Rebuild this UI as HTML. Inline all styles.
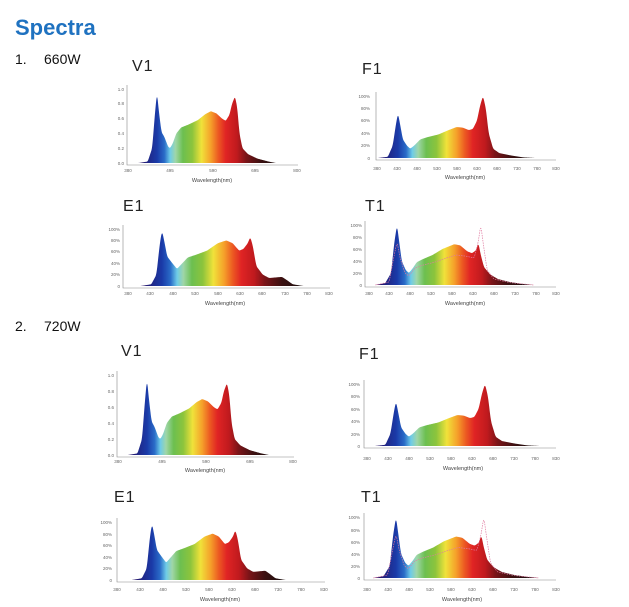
<!DOCTYPE html>
<html><head><meta charset="utf-8"><style>
html,body{margin:0;padding:0;background:#fff;}
svg{display:block;font-family:"Liberation Sans",sans-serif;}
.t{font-size:16px;fill:#222;letter-spacing:1px}
.tk{font-size:4.5px;fill:#666}
.xl{font-size:5.5px;fill:#444}
</style></head><body>
<svg id="s" width="629" height="607" viewBox="0 0 629 607" xmlns="http://www.w3.org/2000/svg">
<defs id="defs"></defs>
<text x="15" y="35" font-size="22" font-weight="bold" fill="#1f72c0">Spectra</text>
<text x="15" y="64" font-size="14" fill="#111">1.</text><text x="44" y="64" font-size="14" fill="#111">660W</text>
<text x="15" y="331" font-size="14" fill="#111">2.</text><text x="44" y="331" font-size="14" fill="#111">720W</text>

<text class="t" x="132" y="71">V1</text>
<text class="t" x="362" y="74">F1</text>
<text class="t" x="123" y="211">E1</text>
<text class="t" x="365" y="211">T1</text>
<text class="t" x="121" y="356">V1</text>
<text class="t" x="359" y="359">F1</text>
<text class="t" x="114" y="502">E1</text>
<text class="t" x="361" y="502">T1</text>

<g id="plots"></g>

<g class="tk" text-anchor="end">
<text x="124" y="165">0.0</text><text x="124" y="150">0.2</text><text x="124" y="135">0.4</text><text x="124" y="120">0.6</text><text x="124" y="105">0.8</text><text x="124" y="91">1.0</text>
</g>
<g class="tk" text-anchor="middle">
<text x="128" y="172">380</text><text x="170" y="172">495</text><text x="213" y="172">590</text><text x="255" y="172">695</text><text x="297" y="172">800</text>
</g>
<text class="xl" x="212" y="182" text-anchor="middle">Wavelength(nm)</text>

<g class="tk" text-anchor="end">
<text x="370" y="160">0</text><text x="370" y="147">20%</text><text x="370" y="135">40%</text><text x="370" y="122">60%</text><text x="370" y="110">80%</text><text x="370" y="98">100%</text>
</g>
<g class="tk" text-anchor="middle">
<text x="377" y="170">380</text><text x="397" y="170">430</text><text x="417" y="170">480</text><text x="437" y="170">530</text><text x="457" y="170">580</text><text x="477" y="170">630</text><text x="497" y="170">680</text><text x="517" y="170">730</text><text x="537" y="170">780</text><text x="556" y="170">830</text>
</g>
<text class="xl" x="465" y="179" text-anchor="middle">Wavelength(nm)</text>

<g class="tk" text-anchor="end">
<text x="120" y="288">0</text><text x="120" y="276">20%</text><text x="120" y="265">40%</text><text x="120" y="253">60%</text><text x="120" y="242">80%</text><text x="120" y="231">100%</text>
</g>
<g class="tk" text-anchor="middle">
<text x="128" y="295">380</text><text x="150" y="295">430</text><text x="173" y="295">480</text><text x="195" y="295">530</text><text x="218" y="295">580</text><text x="240" y="295">630</text><text x="262" y="295">680</text><text x="285" y="295">730</text><text x="307" y="295">780</text><text x="329" y="295">830</text>
</g>
<text class="xl" x="225" y="305" text-anchor="middle">Wavelength(nm)</text>

<g class="tk" text-anchor="end">
<text x="362" y="287">0</text><text x="362" y="275">20%</text><text x="362" y="263">40%</text><text x="362" y="251">60%</text><text x="362" y="239">80%</text><text x="362" y="227">100%</text>
</g>
<g class="tk" text-anchor="middle">
<text x="369" y="295">380</text><text x="389" y="295">430</text><text x="410" y="295">480</text><text x="431" y="295">530</text><text x="452" y="295">580</text><text x="473" y="295">630</text><text x="494" y="295">680</text><text x="515" y="295">730</text><text x="536" y="295">780</text><text x="556" y="295">830</text>
</g>
<text class="xl" x="465" y="305" text-anchor="middle">Wavelength(nm)</text>

<g class="tk" text-anchor="end">
<text x="114" y="457">0.0</text><text x="114" y="441">0.2</text><text x="114" y="425">0.4</text><text x="114" y="409">0.6</text><text x="114" y="393">0.8</text><text x="114" y="377">1.0</text>
</g>
<g class="tk" text-anchor="middle">
<text x="118" y="463">380</text><text x="162" y="463">495</text><text x="206" y="463">590</text><text x="250" y="463">695</text><text x="293" y="463">800</text>
</g>
<text class="xl" x="205" y="472" text-anchor="middle">Wavelength(nm)</text>

<g class="tk" text-anchor="end">
<text x="360" y="448">0</text><text x="360" y="436">20%</text><text x="360" y="423">40%</text><text x="360" y="411">60%</text><text x="360" y="398">80%</text><text x="360" y="386">100%</text>
</g>
<g class="tk" text-anchor="middle">
<text x="367" y="460">380</text><text x="388" y="460">430</text><text x="409" y="460">480</text><text x="430" y="460">530</text><text x="451" y="460">580</text><text x="472" y="460">630</text><text x="493" y="460">680</text><text x="514" y="460">730</text><text x="535" y="460">780</text><text x="556" y="460">830</text>
</g>
<text class="xl" x="463" y="470" text-anchor="middle">Wavelength(nm)</text>

<g class="tk" text-anchor="end">
<text x="112" y="582">0</text><text x="112" y="570">20%</text><text x="112" y="559">40%</text><text x="112" y="547">60%</text><text x="112" y="536">80%</text><text x="112" y="524">100%</text>
</g>
<g class="tk" text-anchor="middle">
<text x="117" y="591">380</text><text x="140" y="591">430</text><text x="163" y="591">480</text><text x="186" y="591">530</text><text x="209" y="591">580</text><text x="232" y="591">630</text><text x="255" y="591">680</text><text x="278" y="591">730</text><text x="301" y="591">780</text><text x="324" y="591">830</text>
</g>
<text class="xl" x="220" y="601" text-anchor="middle">Wavelength(nm)</text>

<g class="tk" text-anchor="end">
<text x="360" y="580">0</text><text x="360" y="568">20%</text><text x="360" y="556">40%</text><text x="360" y="544">60%</text><text x="360" y="532">80%</text><text x="360" y="519">100%</text>
</g>
<g class="tk" text-anchor="middle">
<text x="367" y="591">380</text><text x="388" y="591">430</text><text x="409" y="591">480</text><text x="430" y="591">530</text><text x="451" y="591">580</text><text x="472" y="591">630</text><text x="493" y="591">680</text><text x="514" y="591">730</text><text x="535" y="591">780</text><text x="556" y="591">830</text>
</g>
<text class="xl" x="462" y="601" text-anchor="middle">Wavelength(nm)</text>
</svg>
<script>
var NS="http://www.w3.org/2000/svg";
var SV=[[400,0],[425,0.02],[437,0.2],[445,0.7],[450,0.95],[455,0.7],[462,0.42],[470,0.35],[480,0.22],[485,0.2],[492,0.26],[502,0.4],[515,0.48],[535,0.52],[560,0.58],[580,0.66],[595,0.7],[610,0.67],[625,0.6],[635,0.57],[645,0.65],[652,0.8],[660,0.9],[666,0.75],[672,0.4],[680,0.2],[695,0.12],[720,0.06],[750,0.02],[770,0]];
var SF=[[400,0],[425,0.02],[437,0.2],[445,0.55],[450,0.72],[455,0.55],[462,0.3],[472,0.2],[480,0.15],[490,0.2],[505,0.3],[525,0.34],[550,0.38],[575,0.45],[595,0.5],[610,0.49],[625,0.45],[635,0.47],[645,0.6],[653,0.85],[660,1.0],[667,0.8],[674,0.4],[685,0.15],[700,0.08],[730,0.04],[760,0.01],[790,0]];
var SE=[[400,0],[425,0.03],[437,0.2],[445,0.75],[450,0.97],[455,0.8],[462,0.52],[472,0.42],[485,0.3],[495,0.38],[510,0.5],[530,0.55],[555,0.62],[580,0.75],[600,0.8],[615,0.75],[630,0.62],[640,0.65],[650,0.75],[656,0.86],[662,0.7],[670,0.35],[685,0.2],[700,0.14],[715,0.15],[730,0.16],[742,0.1],[755,0.03],[780,0]];
var ST=[[395,0],[420,0.03],[435,0.2],[443,0.7],[450,1.0],[456,0.7],[462,0.4],[472,0.25],[480,0.2],[490,0.28],[500,0.38],[515,0.43],[540,0.5],[565,0.6],[595,0.68],[610,0.66],[628,0.56],[640,0.53],[650,0.58],[656,0.7],[662,0.5],[670,0.3],[685,0.18],[705,0.1],[735,0.05],[765,0.02],[795,0]];
var SD=[[395,0],[430,0.05],[443,0.5],[450,0.72],[458,0.45],[470,0.2],[480,0.15],[495,0.28],[515,0.33],[545,0.38],[575,0.45],[600,0.5],[625,0.48],[645,0.45],[655,0.7],[662,1.0],[668,0.7],[678,0.25],[695,0.1],[735,0.04],[795,0]];
var C=[
 {ax:127,ar:298,y0:163,y1:89,b:157,r:235,S:SV},
 {ax:376,ar:556,y0:158,y1:96,b:398,r:483,S:SF},
 {ax:123,ar:330,y0:286,y1:229,b:162,r:252,S:SE},
 {ax:365,ar:556,y0:285,y1:225,b:397,r:480,S:ST,T:1},
 {ax:117,ar:294,y0:455,y1:375,b:147,r:227,S:SV},
 {ax:364,ar:556,y0:446,y1:384,b:396,r:485,S:SF},
 {ax:117,ar:325,y0:580,y1:522,b:152,r:237,S:SE},
 {ax:364,ar:556,y0:578,y1:517,b:396,r:483,S:ST,T:1}
];
function interp(S,l){
 if(l<=S[0][0])return 0; if(l>=S[S.length-1][0])return 0;
 for(var i=1;i<S.length;i++){if(l<=S[i][0]){var a=S[i-1],b=S[i];return a[1]+(b[1]-a[1])*(l-a[0])/(b[0]-a[0]);}}
 return 0;
}
function sm(S,l){var s=0;for(var d=-2;d<=2;d++)s+=interp(S,l+d);return s/5;}
var stops=[[400,"#2a1060"],[430,"#1f2a8c"],[450,"#1a3aa8"],[470,"#2a6cc8"],[485,"#6ecbe8"],[500,"#9fd6a8"],[520,"#6cbf50"],[545,"#8cc43c"],[570,"#f0e23a"],[595,"#f5a02a"],[615,"#ec5a22"],[635,"#e02424"],[665,"#c01a1e"],[690,"#7a1418"],[730,"#3a1010"],[770,"#201010"]];
var defs=document.getElementById("defs"),P=document.getElementById("plots");
C.forEach(function(c,i){
 var k=(c.r-c.b)/210;
 function X(l){return c.b+(l-450)*k;}
 function Y(v){return c.y0-(c.y0-c.y1)*v;}
 var gr=document.createElementNS(NS,"linearGradient");
 gr.setAttribute("id","g"+i);gr.setAttribute("gradientUnits","userSpaceOnUse");
 gr.setAttribute("x1",X(400));gr.setAttribute("x2",X(770));gr.setAttribute("y1",0);gr.setAttribute("y2",0);
 stops.forEach(function(s){var st=document.createElementNS(NS,"stop");st.setAttribute("offset",((s[0]-400)/370).toFixed(3));st.setAttribute("stop-color",s[1]);gr.appendChild(st);});
 defs.appendChild(gr);
 var a=document.createElementNS(NS,"path");
 a.setAttribute("d","M"+c.ax+","+(c.y1-4)+"V"+(c.y0+2)+"H"+c.ar);
 a.setAttribute("stroke","#888");a.setAttribute("stroke-width","0.6");a.setAttribute("fill","none");P.appendChild(a);
 var d="M"+X(390)+","+c.y0;
 for(var l=390;l<=800;l+=1){d+="L"+X(l).toFixed(2)+","+Y(sm(c.S,l)).toFixed(2);}
 d+="L"+X(800)+","+c.y0+"Z";
 var p=document.createElementNS(NS,"path");p.setAttribute("d",d);p.setAttribute("fill","url(#g"+i+")");P.appendChild(p);
 if(c.T){
  var d2="";
  for(var l=395;l<=795;l+=1){d2+=(l==395?"M":"L")+X(l).toFixed(2)+","+Y(sm(SD,l)).toFixed(2);}
  var q=document.createElementNS(NS,"path");q.setAttribute("d",d2);q.setAttribute("fill","none");
  q.setAttribute("stroke","#e07aa0");q.setAttribute("stroke-width","0.7");q.setAttribute("stroke-dasharray","1.5,1");P.appendChild(q);
 }
});
</script>
</body></html>
